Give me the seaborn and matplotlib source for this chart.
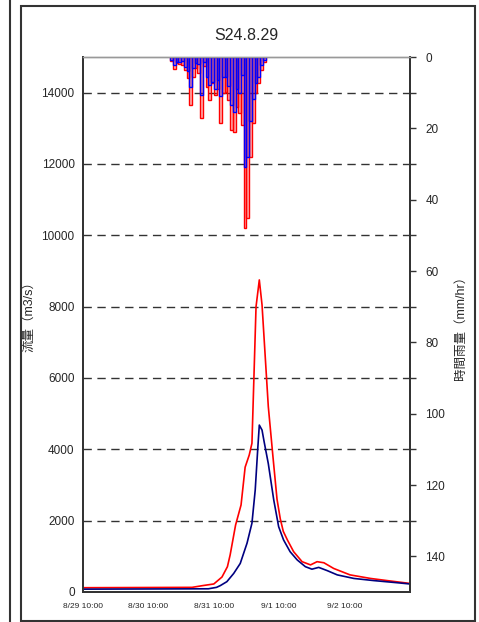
import numpy as np
import pandas as pd
import matplotlib
matplotlib.use("Agg")
import matplotlib.pyplot as plt
import seaborn as sns
from matplotlib.patches import Rectangle
from matplotlib.lines import Line2D

# flow hydrographs (hours after 8/29 10:00, m3/s)
red_t = [0, 40, 44, 48, 51, 53, 54, 56, 58, 59.5, 61, 62, 63.5, 64.7, 65.7, 68, 69.7, 71.2, 72.4, 73.5,
         75, 77.3, 80.4, 83.5, 85.9, 88.4, 92, 98, 105.5, 111.6, 120]
red_q = [120, 130, 180, 225, 420, 710, 1040, 1880, 2440, 3500, 3840, 4170, 8000, 8750, 8050, 5200, 3800,
         2600, 2050, 1700, 1460, 1130, 850, 760, 850, 820, 660, 480, 380, 320, 240]

blue_t = [0, 46, 49, 50.4, 52.8, 55.3, 57.7, 60.2, 62, 63.2, 64.1, 64.7, 65.7, 66.5, 68, 70, 71.8, 73.6,
          76, 78.6, 81.6, 84, 86.5, 89.6, 93.3, 99.4, 106.7, 115.3, 120]
blue_q = [80, 90, 130, 180, 290, 520, 800, 1370, 1930, 2860, 3980, 4680, 4540, 4200, 3600, 2580, 1830,
          1460, 1130, 900, 710, 640, 690, 600, 480, 380, 320, 260, 225]

# hourly rainfall (mm/hr), bars start 8/30 18:00
rain_hours = list(range(32, 67))
red_rain = [1.1, 3.4, 1.8, 2.0, 2.2, 3.6, 6.0, 13.5, 5.6, 3.0, 4.6, 17.0, 2.5, 8.4, 12.0, 7.4, 10.6, 9.0,
            18.5, 10.0, 9.8, 12.0, 20.5, 21.0, 14.0, 15.6, 19.0, 48.0, 45.0, 28.0, 18.5, 10.0, 7.4, 3.6, 1.4]
blue_rain = [0.8, 2.3, 1.4, 1.4, 1.0, 2.7, 4.0, 8.4, 3.0, 1.6, 2.0, 10.6, 1.4, 5.6, 7.8, 7.0, 9.0, 6.5,
             11.0, 5.6, 5.6, 8.0, 13.5, 15.4, 9.0, 10.0, 5.0, 30.8, 28.0, 18.0, 11.8, 7.4, 5.6, 2.3, 0.8]

x_ticks = list(range(0, 121, 12))
x_labels = ["8/29 10:00", "", "8/30 10:00", "", "8/31 10:00", "", "9/1 10:00", "", "9/2 10:00", "", ""]

sns.set_style("white")
plt.rcParams['font.family'] = ['Liberation Sans', 'Noto Sans CJK JP']

fig = plt.figure(figsize=(4.79, 6.22), dpi=100)
ax = fig.add_axes([83/479, 30/622, 327/479, 535/622])
ax2 = ax.twinx()

sns.lineplot(x=red_t, y=red_q, ax=ax, color="#ff0000", lw=1.2)
sns.lineplot(x=blue_t, y=blue_q, ax=ax, color="#000080", lw=1.2)

ax2.bar(rain_hours, red_rain, width=1, align="edge", facecolor=(1, 0, 0, 0.3),
        edgecolor="#ff0000", lw=1.0)
ax2.bar(rain_hours, blue_rain, width=1, align="edge", facecolor=(0, 0, 1, 0.15),
        edgecolor="#0000ff", lw=1.0)

ax.set_xlim(0, 120)
ax.set_ylim(0, 15000)
ax2.set_ylim(150, 0)

ax.set_xticks(x_ticks)
ax.set_xticklabels(x_labels, fontsize=6)
ax.tick_params(axis="x", direction="in", length=4, width=1, color="#333333", pad=8)
ax.set_yticks(range(0, 15000, 2000))
ax.tick_params(axis="y", length=0, labelsize=8.5, pad=6)

ax2.set_yticks(range(0, 150, 20))
ax2.set_yticks(range(10, 150, 20), minor=True)
ax2.tick_params(axis="y", which="both", direction="out", length=4, width=1, color="#333333",
                labelsize=8.5, pad=7)

for y in range(2000, 15000, 2000):
    ax.axhline(y, color="#333333", lw=1, ls=(0, (6, 4)), zorder=0)

for a in (ax, ax2):
    for s in ["left", "bottom", "right"]:
        a.spines[s].set_color("#333333")
        a.spines[s].set_linewidth(1.3)
    a.spines["top"].set_color("#999999")
    a.spines["top"].set_linewidth(1)

ax.set_ylabel("流量（m3/s）", fontsize=9)
ax.yaxis.set_label_coords(-0.147, 0.52)
ax2.set_ylabel("時間雨量（mm/hr）", fontsize=9)
ax2.yaxis.set_label_coords(1.138, 0.5)

ax.set_title("S24.8.29", fontsize=11.5, pad=12)

fig.add_artist(Rectangle((21/479, 1/622), 454/479, 615/622, transform=fig.transFigure,
                         fill=False, edgecolor="#333333", lw=1.5))
fig.add_artist(Line2D([10/479, 10/479], [0, 1], transform=fig.transFigure, color="#333333", lw=1.5))

fig.savefig("out.png", dpi=100)
